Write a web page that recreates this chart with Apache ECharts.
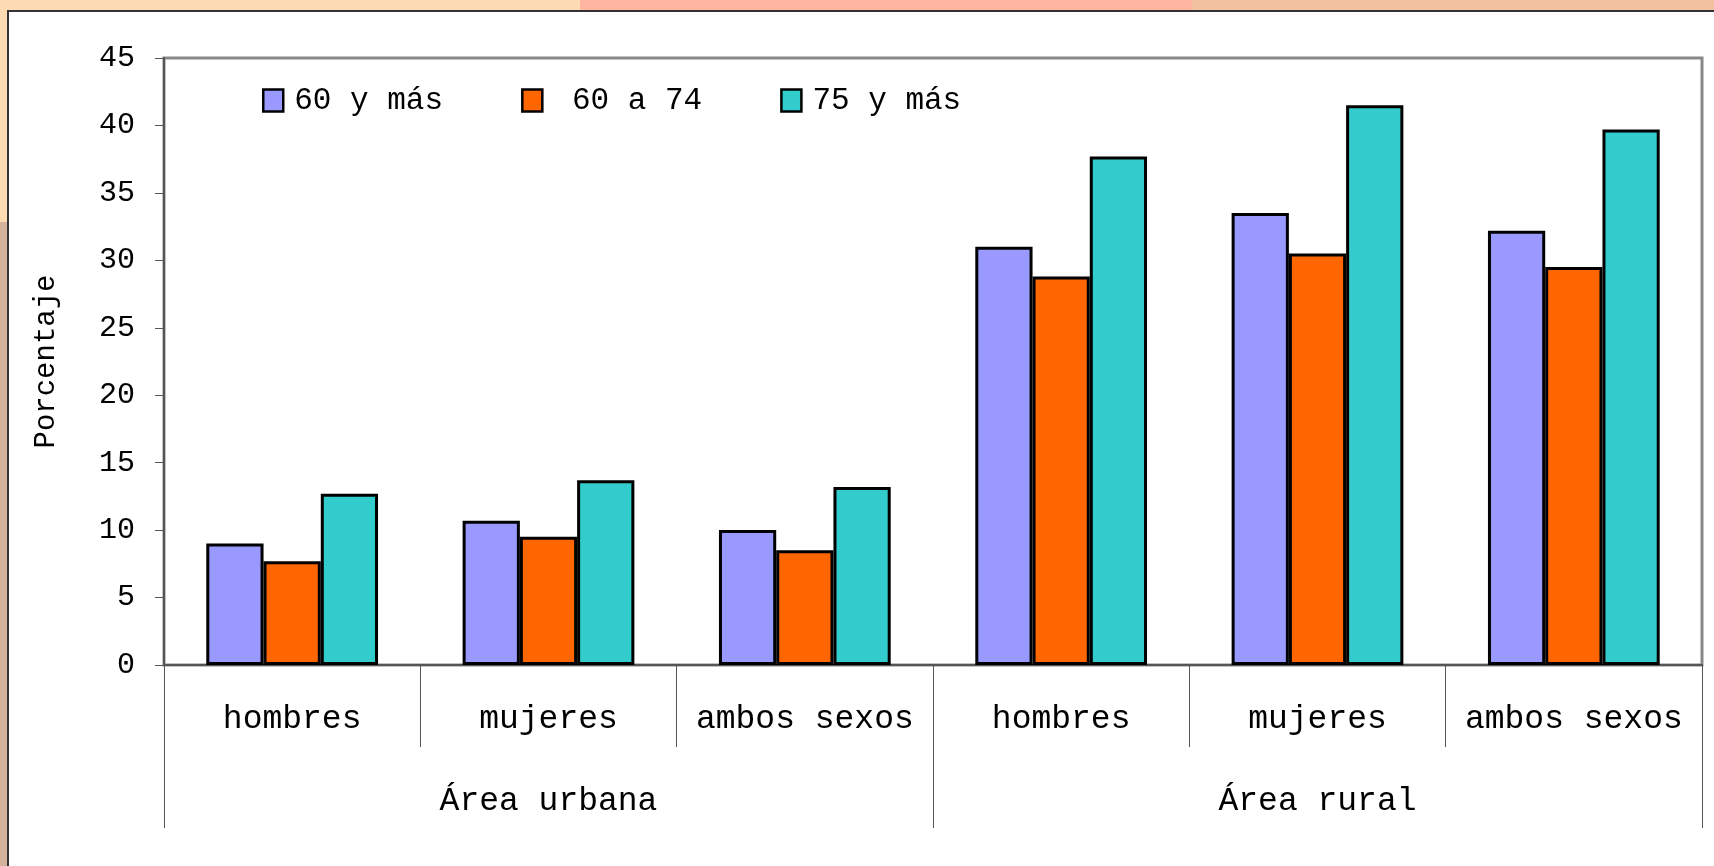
<!DOCTYPE html>
<html>
<head>
<meta charset="utf-8">
<script src="https://cdn.jsdelivr.net/npm/echarts@6/dist/echarts.min.js"></script>
<style>
  html, body { margin: 0; padding: 0; width: 1714px; height: 866px; overflow: hidden; background: #FFDBB4; position: relative; }
  .bg { position: absolute; }
  #chart { position: absolute; left: 0; top: 0; width: 1714px; height: 866px; }
</style>
</head>
<body>
<div class="bg" style="left:580px;top:0;width:612px;height:12px;background:#FFB5A0"></div>
<div class="bg" style="left:1192px;top:0;width:522px;height:12px;background:#F2C29E"></div>
<div class="bg" style="left:0;top:222px;width:8px;height:644px;background:#D4B29C"></div>
<div class="bg" style="left:7px;top:10px;width:1707px;height:856px;background:#fff;border-top:2px solid #333;border-left:2px solid #333;box-sizing:border-box"></div>
<div id="chart"></div>
<script>
const categories = ['hombres', 'mujeres', 'ambos sexos', 'hombres', 'mujeres', 'ambos sexos'];
const groups = ['Área urbana', 'Área rural'];
const seriesNames = ['60 y más', ' 60 a 74', '75 y más'];
const v60mas = [9.0, 10.7, 10.0, 31.0, 33.5, 32.2];
const v60a74 = [7.7, 9.5, 8.5, 28.8, 30.5, 29.5];
const v75mas = [12.7, 13.7, 13.2, 37.7, 41.5, 39.7];
const yTicks = [0, 45, 5];

const FONT = '"Liberation Mono", "DejaVu Sans Mono", monospace';
const colors = ['#9999FF', '#FF6600', '#33CCCC'];
const chart = echarts.init(document.getElementById('chart'), null, { renderer: 'canvas' });

const mkSeries = (name, data, i) => ({
  name, type: 'bar', data, xAxisIndex: 0, yAxisIndex: 0,
  barGap: '0%', barCategoryGap: '33%',
  itemStyle: { color: colors[i], borderColor: '#000', borderWidth: 3 },
  emphasis: { disabled: true }
});

chart.setOption({
  animation: false,
  backgroundColor: 'transparent',
  textStyle: { fontFamily: FONT, color: '#000' },
  legend: {
    left: 257, top: 80,
    itemWidth: 20, itemHeight: 22, itemGap: 78,
    icon: 'rect',
    textStyle: { fontFamily: FONT, fontSize: 31, color: '#000', padding: [0, 0, 0, 6] },
    data: seriesNames.map((n, i) => ({ name: n, itemStyle: { color: colors[i], borderColor: '#000', borderWidth: 2.5 } }))
  },
  grid: { left: 164, top: 58, width: 1538, height: 607, show: true, borderColor: '#888', borderWidth: 3, backgroundColor: 'transparent', containLabel: false },
  xAxis: [
    {
      type: 'category', data: categories, position: 'bottom',
      axisLine: { show: true, lineStyle: { color: '#555', width: 2 } },
      axisTick: { show: true, interval: 0, length: 82, lineStyle: { color: '#555', width: 1 } },
      axisLabel: { interval: 0, fontFamily: FONT, fontSize: 33, color: '#000', margin: 38 },
      splitLine: { show: false }
    },
    {
      type: 'category', data: groups, position: 'bottom',
      axisLine: { show: false },
      axisTick: { show: true, interval: 0, length: 163, lineStyle: { color: '#555', width: 1 } },
      axisLabel: { interval: 0, fontFamily: FONT, fontSize: 33, color: '#000', margin: 120 },
      splitLine: { show: false }
    }
  ],
  yAxis: {
    type: 'value', min: yTicks[0], max: yTicks[1], interval: yTicks[2],
    name: 'Porcentaje', nameLocation: 'middle', nameRotate: 90, nameGap: 103,
    nameTextStyle: { fontFamily: FONT, fontSize: 29, color: '#000' },
    axisLine: { show: true, lineStyle: { color: '#555', width: 2 } },
    axisTick: { show: true, inside: false, length: 9, lineStyle: { color: '#555', width: 1 } },
    axisLabel: { fontFamily: FONT, fontSize: 30, color: '#000', margin: 29 },
    splitLine: { show: false }
  },
  series: [
    mkSeries(seriesNames[0], v60mas, 0),
    mkSeries(seriesNames[1], v60a74, 1),
    mkSeries(seriesNames[2], v75mas, 2)
  ]
});
</script>
</body>
</html>
